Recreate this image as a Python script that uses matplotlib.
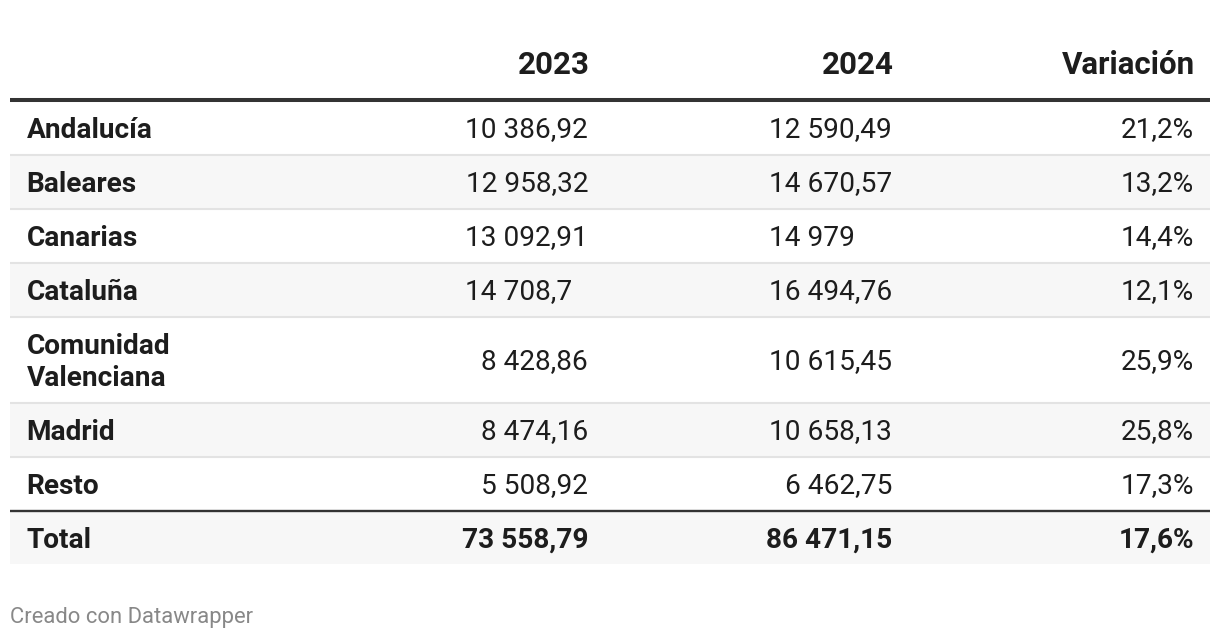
import matplotlib
matplotlib.use("Agg")
import matplotlib.pyplot as plt
from matplotlib.patches import Rectangle

# ---- data ----
columns = ["2023", "2024", "Variación"]
regions = ["Andalucía", "Baleares", "Canarias", "Cataluña",
           "Comunidad\nValenciana", "Madrid", "Resto"]
v2023 = [10386.92, 12958.32, 13092.91, 14708.7, 8428.86, 8474.16, 5508.92]
v2024 = [12590.49, 14670.57, 14979, 16494.76, 10615.45, 10658.13, 6462.75]
variation = [21.2, 13.2, 14.4, 12.1, 25.9, 25.8, 17.3]
total_label = "Total"
total_2023 = 73558.79
total_2024 = 86471.15
total_var = 17.6
footer = "Creado con Datawrapper"


def fmt_num(v):
    s = f"{v:,.2f}"
    ip, dp = s.split(".")
    dp = dp.rstrip("0")
    ip = ip.replace(",", " ")
    return ip + ("," + dp if dp else "")


def fmt_pad(v):
    s = f"{v:,.2f}"
    ip, dp = s.split(".")
    return ip.replace(",", " ") + "," + dp


def fmt_pct(v):
    return f"{v:.1f}".replace(".", ",") + "%"


W, H = 1220, 640
fig = plt.figure(figsize=(W / 100, H / 100), dpi=100)
ax = fig.add_axes([0, 0, 1, 1])
ax.set_xlim(0, W)
ax.set_ylim(H, 0)
ax.axis("off")

FONT = "Roboto"
TXT = "#1d1d1d"
FS = 20.2
HFS = 22.5
left, right = 10, 1210
col_x = [588, 892, 1194]
label_x = 26.5
BASE_OFF = 9.5  # baseline below row centre

# header
for x, c in zip(col_x, columns):
    ax.text(x + 1.5, 74, c, ha="right", va="baseline", fontsize=HFS,
            fontweight="bold", family=FONT, color=TXT)

# rows geometry
top = 101
heights = [54, 54, 54, 54, 86, 54, 54]
renderer = fig.canvas.get_renderer()
inv = ax.transData.inverted()


def dec_text(x, yb, v, bold=False):
    padded = fmt_pad(v)
    actual = fmt_num(v)
    t = ax.text(x, yb, padded, ha="right", va="baseline", fontsize=FS,
                family=FONT, fontweight="bold" if bold else "normal")
    bb = t.get_window_extent(renderer=renderer)
    x0 = inv.transform((bb.x0, bb.y0))[0]
    t.remove()
    ax.text(x0, yb, actual, ha="left", va="baseline", fontsize=FS,
            family=FONT, fontweight="bold" if bold else "normal", color=TXT)


y = top
for i, (r, a, b, p) in enumerate(zip(regions, v2023, v2024, variation)):
    h = heights[i]
    if i % 2 == 1:
        ax.add_patch(Rectangle((left, y), right - left, h, color="#f7f7f7", lw=0, zorder=0))
    cy = y + h / 2
    yb = cy + BASE_OFF
    lines = r.split("\n")
    n = len(lines)
    gap = 32
    for k, ln in enumerate(lines):
        ax.text(label_x, yb + (k - (n - 1) / 2) * gap, ln, ha="left", va="baseline",
                fontsize=FS, fontweight="bold", family=FONT, color=TXT)
    dec_text(col_x[0], yb, a)
    dec_text(col_x[1], yb, b)
    ax.text(col_x[2], yb, fmt_pct(p), ha="right", va="baseline", fontsize=FS,
            family=FONT, color=TXT)
    y += h
    if i < len(regions) - 1:
        ax.plot([left, right], [y, y], color="#e3e3e3", lw=1.5, zorder=2,
                solid_capstyle="butt")

# total row
total_top = y
ax.add_patch(Rectangle((left, total_top), right - left, 53, color="#f7f7f7", lw=0, zorder=0))
yb = total_top + 27 + BASE_OFF
ax.text(label_x, yb, total_label, ha="left", va="baseline", fontsize=FS,
        fontweight="bold", family=FONT, color=TXT)
dec_text(col_x[0], yb, total_2023, bold=True)
dec_text(col_x[1], yb, total_2024, bold=True)
ax.text(col_x[2], yb, fmt_pct(total_var), ha="right", va="baseline", fontsize=FS,
        fontweight="bold", family=FONT, color=TXT)
ax.plot([left, right], [total_top, total_top], color="#333333", lw=1.7, zorder=3,
        solid_capstyle="butt")

# header line
ax.plot([left, right], [100.3, 100.3], color="#333333", lw=2.9, zorder=3,
        solid_capstyle="butt")

# footer
ax.text(10, 623, footer, ha="left", va="baseline", fontsize=15.8, family=FONT,
        color="#888888")

fig.savefig("out.png", dpi=100)
